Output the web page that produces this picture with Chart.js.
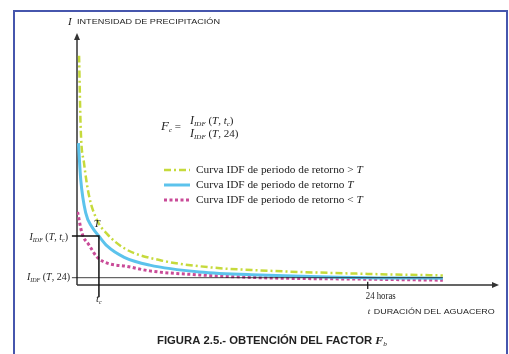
<!DOCTYPE html>
<html>
<head>
<meta charset="utf-8">
<script src="https://cdn.jsdelivr.net/npm/chart.js@4.4.0/dist/chart.umd.min.js"></script>
<style>
  html, body { margin: 0; padding: 0; background: #fff; }
  canvas { display: block; }
</style>
</head>
<body>
<canvas id="idfChart" width="509" height="354"></canvas>
<script>
// --- data (t in hours, I in arbitrary intensity units) ---
const greenT = [0.17, 0.31, 0.58, 0.99, 1.65, 2.48, 4.0, 6.8, 11, 15.1, 24, 30.2];   // return period > T
const greenI = [91, 61.5, 48.4, 35.5, 25.8, 20.3, 14.3, 9.9, 7.0, 5.8, 4.4, 3.8];
const blueT  = [0.12, 0.31, 0.72, 1.24, 1.81, 2.48, 3.9, 6.0, 10.1, 15.1, 24, 30.2]; // return period T
const blueI  = [56.3, 41.7, 28.6, 23.0, 19.4, 15.5, 11.0, 7.9, 5.2, 4.0, 2.9, 2.7];
const magT   = [0.05, 0.41, 0.99, 1.65, 2.48, 4.1, 6.0, 10.1, 15.1, 24, 30.2];       // return period < T
const magI   = [29, 20.6, 15.9, 11.1, 8.7, 7.4, 5.6, 4.0, 2.9, 2.3, 1.9];

const tc = 1.81;          // concentration time
const Itc = 19.4;         // I_IDF(T, tc)
const I24 = 2.9;          // I_IDF(T, 24)
const tEnd = 30.2;

const legendLabels = [
  'Curva IDF de periodo de retorno > ',
  'Curva IDF de periodo de retorno ',
  'Curva IDF de periodo de retorno < '
];

const COLORS = { green: '#c6da3c', blue: '#5cc3ec', magenta: '#c94b98', ink: '#222', frame: '#4656ad' };
const SERIF = '"Liberation Serif", "DejaVu Serif", serif';
const SANS  = '"Liberation Sans", Arial, sans-serif';

const pts = (xs, ys) => xs.map((x, i) => ({ x, y: ys[i] }));

// draw a run of text pieces (font / baseline shift) left, right or centre aligned
function rich(ctx, parts, x, y, align = 'left', sx = 1) {
  let w = 0;
  parts.forEach(p => { ctx.font = p.f; w += ctx.measureText(p.t).width; });
  w *= sx;
  let cx = align === 'right' ? x - w : align === 'center' ? x - w / 2 : x;
  parts.forEach(p => {
    ctx.font = p.f;
    ctx.save();
    ctx.translate(cx, y + (p.dy || 0));
    ctx.scale(sx, 1);
    ctx.fillText(p.t, 0, 0);
    ctx.restore();
    cx += ctx.measureText(p.t).width * sx;
  });
}

// text squeezed/stretched to a given width
function fitText(ctx, text, font, x, y, width) {
  ctx.save();
  ctx.font = font;
  const w = ctx.measureText(text).width;
  ctx.translate(x, y);
  ctx.scale(width / w, 1);
  ctx.fillText(text, 0, 0);
  ctx.restore();
}

const figurePlugin = {
  id: 'figure',
  beforeDatasetsDraw(chart) {
    const { ctx, scales: { x, y } } = chart;
    const x0 = x.getPixelForValue(0), y0 = y.getPixelForValue(0);
    const top = y.top, right = x.right - 2;

    ctx.save();
    // outer frame
    ctx.strokeStyle = COLORS.frame;
    ctx.lineWidth = 2;
    ctx.strokeRect(14, 11, 493, 360);

    // axes
    ctx.strokeStyle = '#333';
    ctx.fillStyle = '#333';
    ctx.lineWidth = 1.5;
    ctx.beginPath();
    ctx.moveTo(x0, y0); ctx.lineTo(x0, top + 4);
    ctx.moveTo(x0, y0); ctx.lineTo(right - 4, y0);
    ctx.stroke();
    ctx.beginPath();
    ctx.moveTo(x0, top); ctx.lineTo(x0 - 3, top + 7); ctx.lineTo(x0 + 3, top + 7); ctx.closePath();
    ctx.fill();
    ctx.beginPath();
    ctx.moveTo(right, y0); ctx.lineTo(right - 7, y0 - 3); ctx.lineTo(right - 7, y0 + 3); ctx.closePath();
    ctx.fill();
    ctx.restore();
  },
  afterDraw(chart) {
    const { ctx, scales: { x, y } } = chart;
    const px = v => x.getPixelForValue(v), py = v => y.getPixelForValue(v);
    ctx.save();
    ctx.fillStyle = COLORS.ink;
    ctx.textBaseline = 'middle';

    // y axis title
    ctx.font = 'italic 11px ' + SERIF;
    ctx.fillText('I', px(0) - 9, 22);
    fitText(ctx, 'INTENSIDAD DE PRECIPITACIÓN', '8px ' + SANS, px(0), 22, 143);

    // formula
    const it = 'italic 12px ' + SERIF, sub = 'italic 7px ' + SERIF, rm = '11px ' + SERIF;
    rich(ctx, [{ t: 'F', f: 'italic 13px ' + SERIF }, { t: 'c', f: sub, dy: 3 }, { t: ' =', f: rm }], 161, 127);
    rich(ctx, [{ t: 'I', f: it }, { t: 'IDF', f: sub, dy: 3 }, { t: ' (', f: rm }, { t: 'T', f: 'italic 11px ' + SERIF },
               { t: ', ', f: rm }, { t: 't', f: 'italic 11px ' + SERIF }, { t: 'c', f: sub, dy: 3 }, { t: ')', f: rm }], 190, 121);
    rich(ctx, [{ t: 'I', f: it }, { t: 'IDF', f: sub, dy: 3 }, { t: ' (', f: rm }, { t: 'T', f: 'italic 11px ' + SERIF },
               { t: ', 24)', f: rm }], 190, 134);

    // legend
    const styles = [
      { c: COLORS.green, w: 2.5, d: [7, 3, 2, 3] },
      { c: COLORS.blue, w: 3, d: [] },
      { c: COLORS.magenta, w: 3, d: [3, 2.5] }
    ];
    legendLabels.forEach((lab, i) => {
      const ly = 170 + i * 15;
      ctx.save();
      ctx.strokeStyle = styles[i].c; ctx.lineWidth = styles[i].w; ctx.setLineDash(styles[i].d);
      ctx.beginPath(); ctx.moveTo(164, ly); ctx.lineTo(190, ly); ctx.stroke();
      ctx.restore();
      rich(ctx, [{ t: lab, f: '10px ' + SERIF }, { t: 'T', f: 'italic 10px ' + SERIF }], 196, ly, 'left', 1.13);
    });

    // annotations at tc and 24 h
    ctx.font = 'italic 11px ' + SERIF;
    ctx.textAlign = 'center';
    ctx.fillText('T', px(tc) - 2, py(Itc) - 12);
    ctx.textAlign = 'left';
    const lf = 'italic 10px ' + SERIF, ls = 'italic 6px ' + SERIF, lr = '10px ' + SERIF;
    rich(ctx, [{ t: 'I', f: lf }, { t: 'IDF', f: ls, dy: 3 }, { t: ' (', f: lr }, { t: 'T', f: lf }, { t: ', ', f: lr },
               { t: 't', f: lf }, { t: 'c', f: ls, dy: 3 }, { t: ')', f: lr }], 68, py(Itc) + 1, 'right');
    rich(ctx, [{ t: 'I', f: lf }, { t: 'IDF', f: ls, dy: 3 }, { t: ' (', f: lr }, { t: 'T', f: lf }, { t: ', 24)', f: lr }],
         70, py(I24), 'right');
    rich(ctx, [{ t: 't', f: 'italic 11px ' + SERIF }, { t: 'c', f: ls, dy: 3 }], px(tc) - 3, 299);

    fitText(ctx, '24 horas', '10px ' + SERIF, px(24) - 2, 296, 30);
    ctx.font = 'italic 9px ' + SERIF;
    ctx.fillText('t', px(24), 312);
    fitText(ctx, 'DURACIÓN DEL AGUACERO', '8px ' + SANS, px(24) + 6, 312, 121);

    // caption
    rich(ctx, [{ t: 'FIGURA 2.5.- OBTENCIÓN DEL FACTOR ', f: 'bold 10px ' + SANS },
               { t: 'F', f: 'italic bold 10.5px ' + SERIF }, { t: 'b', f: 'italic 6.5px ' + SERIF, dy: 3 }],
         157, 341, 'left', 1.13);
    ctx.restore();
  }
};

const refLine = (data, w) => ({
  data, showLine: true, borderColor: '#111', borderWidth: w, pointRadius: 0, clip: false, tension: 0
});

new Chart(document.getElementById('idfChart'), {
  type: 'scatter',
  data: {
    datasets: [
      refLine([{ x: -0.42, y: I24 }, { x: tEnd, y: I24 }], 0.8),
      refLine([{ x: -0.42, y: Itc }, { x: tc, y: Itc }, { x: tc, y: -4.8 }], 1.5),
      refLine([{ x: 24, y: 1.3 }, { x: 24, y: -1.6 }], 1.2),
      {
        label: 'T+', data: pts(greenT, greenI), showLine: true, pointRadius: 0,
        borderColor: COLORS.green, borderWidth: 2.5, borderDash: [7, 3, 2, 3], cubicInterpolationMode: 'monotone'
      },
      {
        label: 'T', data: pts(blueT, blueI), showLine: true, pointRadius: 0,
        borderColor: COLORS.blue, borderWidth: 3, cubicInterpolationMode: 'monotone'
      },
      {
        label: 'T-', data: pts(magT, magI), showLine: true, pointRadius: 0,
        borderColor: COLORS.magenta, borderWidth: 3, borderDash: [3, 2.5], cubicInterpolationMode: 'monotone'
      }
    ]
  },
  options: {
    responsive: false,
    animation: false,
    layout: { padding: { left: 77, right: 8, top: 33, bottom: 69 } },
    scales: {
      x: { type: 'linear', display: false, min: 0, max: 35 },
      y: { type: 'linear', display: false, min: 0, max: 100 }
    },
    plugins: { legend: { display: false }, tooltip: { enabled: false } }
  },
  plugins: [figurePlugin]
});
</script>
</body>
</html>
